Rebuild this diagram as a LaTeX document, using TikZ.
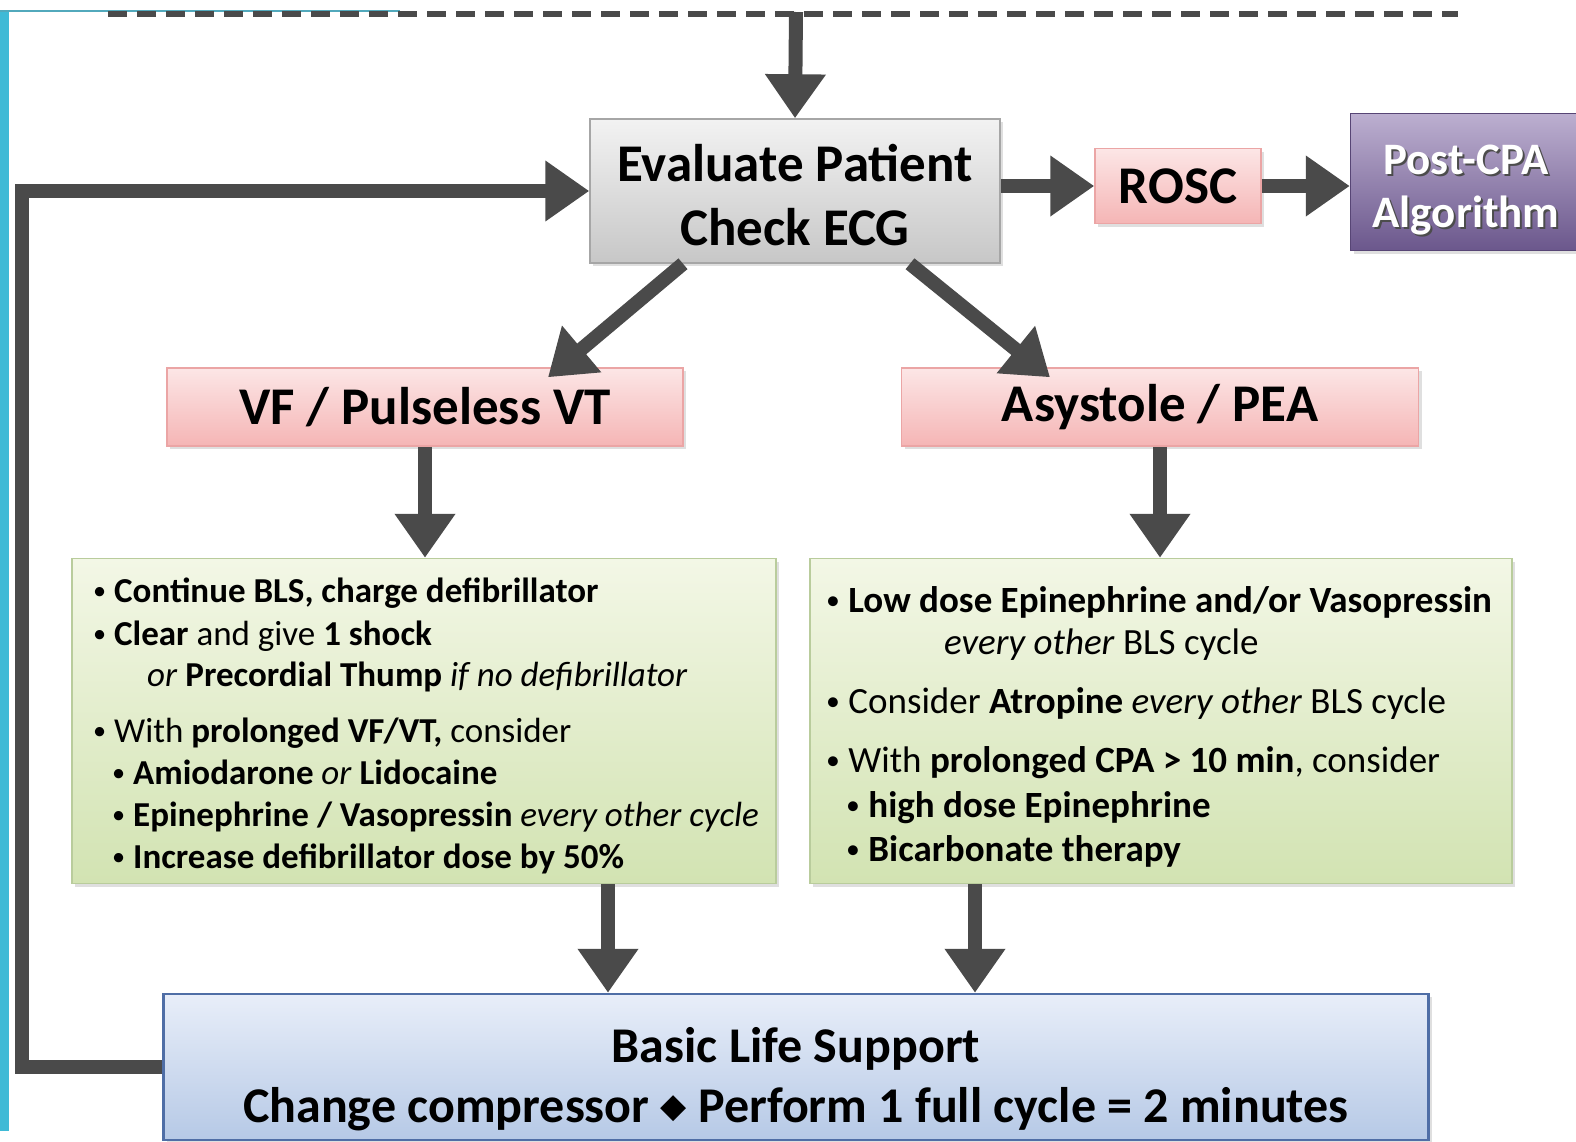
\documentclass[tikz,border=0pt]{standalone}
\usepackage{fontspec}
\setmainfont{Carlito}
\newfontfamily\symf{DejaVu Sans}
\usetikzlibrary{arrows.meta,shadows}
\definecolor{arrowgray}{HTML}{4A4A4A}
\definecolor{cyanbar}{HTML}{3FBAD6}
\definecolor{pinkT}{HTML}{FCE6E6}
\definecolor{pinkB}{HTML}{F5B5B5}
\definecolor{pinkD}{HTML}{EBA5A5}
\definecolor{purT}{HTML}{BCAFD0}
\definecolor{purB}{HTML}{6B578C}
\definecolor{purD}{HTML}{574575}
\definecolor{grnT}{HTML}{F3F7E6}
\definecolor{grnB}{HTML}{D2E3B2}
\definecolor{grnD}{HTML}{B9CC9C}
\definecolor{bluT}{HTML}{E8EEF9}
\definecolor{bluB}{HTML}{B6C9E6}
\definecolor{bluD}{HTML}{4F6EA6}
\newcommand\itm{\raisebox{0.15ex}{\scalebox{0.75}{\textbullet}}\ }
\begin{document}
\begin{tikzpicture}[x=1pt,y=-1pt,
  flow/.style={draw=arrowgray, line width=14pt, -{Triangle[width=58pt,length=44pt]}},
  boxbase/.style={draw, line width=1.5pt, inner sep=0pt, align=center,
     drop shadow={opacity=0.25, shadow xshift=3pt, shadow yshift=-3pt}},
  graybox/.style={boxbase, draw=black!35, top color=white!95!black, bottom color=black!22},
  pinkbox/.style={boxbase, draw=pinkD, top color=pinkT, bottom color=pinkB},
  purplebox/.style={boxbase, draw=purD, top color=purT, bottom color=purB},
  greenbox/.style={boxbase, draw=grnD, top color=grnT, bottom color=grnB},
  bluebox/.style={boxbase, draw=bluD, line width=2.5pt, top color=bluT, bottom color=bluB},
  big/.style={font=\fontsize{53}{64}\selectfont\bfseries},
  ltxt/.style={font=\fontsize{35}{40}\selectfont, inner sep=0pt, anchor=base west},
  rtxt/.style={font=\fontsize{37}{42}\selectfont, inner sep=0pt, anchor=base west},
]
\useasboundingbox (0,0) rectangle (1576,1141);
\fill[white] (0,0) rectangle (1576,1141);
% left cyan bar and top line
\fill[cyanbar] (0,10) rectangle (9,1131);
\draw[cyanbar!70!gray, line width=2pt] (0,11) -- (400,11);
% dashed top line
\coordinate (dl) at (108,14);
\coordinate (dr) at (1458,14);
\draw[arrowgray, line width=6pt, dash pattern=on 19pt off 10pt] (dl) -- (dr);
\coordinate (topc) at (796,12);

% boxes
\node[graybox, minimum width=410pt, minimum height=144pt] (eval) at (795,191) {};
\node[big, align=center] (evaltx) at (795,195) {Evaluate Patient\\Check ECG};
\node[pinkbox, big, minimum width=166pt, minimum height=75pt] (rosc) at (1178,186) {ROSC};
\node[purplebox, minimum width=231pt, minimum height=137pt] (post) at (1466,182) {};
\node[font=\fontsize{45}{53}\selectfont\bfseries, text=black!70, align=center] (postsh) at (1468,192) {Post-CPA\\Algorithm};
\node[font=\fontsize{45}{53}\selectfont\bfseries, text=white, align=center] (posttx) at (1466,190) {Post-CPA\\Algorithm};
\node[pinkbox, big, minimum width=516pt, minimum height=78pt] (vf) at (425,407) {VF / Pulseless VT};
\node[pinkbox, big, minimum width=517pt, minimum height=78pt] (asy) at (1160,407) {Asystole / PEA};
\node[greenbox, minimum width=704pt, minimum height=325pt] (lbox) at (424,721) {};
\node[greenbox, minimum width=702pt, minimum height=325pt] (rbox) at (1161,721) {};
\node[bluebox, minimum width=1265pt, minimum height=146pt] (bls) at (796,1067) {};
\node[font=\fontsize{50}{60}\selectfont\bfseries, align=center] (blstx) at (796,1079)
  {Basic Life Support\\Change compressor \raisebox{5pt}{\symf\fontsize{34}{34}\selectfont ◆} Perform 1 full cycle = 2 minutes};

% left box text
\node[ltxt] (l1) at (93,602) {\itm\textbf{Continue BLS, charge defibrillator}};
\node[ltxt] (l2) at (93,645) {\itm\textbf{Clear} and give \textbf{1 shock}};
\node[ltxt] (l3) at (147,686) {\textit{or} \textbf{Precordial Thump} \textit{if no defibrillator}};
\node[ltxt] (l4) at (93,742) {\itm With \textbf{prolonged VF/VT,} consider};
\node[ltxt] (l5) at (112,784) {\itm\textbf{Amiodarone} \textit{or} \textbf{Lidocaine}};
\node[ltxt] (l6) at (112,826) {\itm\textbf{Epinephrine / Vasopressin} \textit{every other cycle}};
\node[ltxt] (l7) at (112,868) {\itm\textbf{Increase defibrillator dose by 50\%}};
% right box text
\node[rtxt] (r1) at (826,612) {\itm\textbf{Low dose Epinephrine and/or Vasopressin}};
\node[rtxt] (r2) at (944,654) {\textit{every other} BLS cycle};
\node[rtxt] (r3) at (826,713) {\itm Consider \textbf{Atropine} \textit{every other} BLS cycle};
\node[rtxt] (r4) at (826,772) {\itm With \textbf{prolonged CPA > 10 min}, consider};
\node[rtxt] (r5) at (846,817) {\itm\textbf{high dose Epinephrine}};
\node[rtxt] (r6) at (846,861) {\itm\textbf{Bicarbonate therapy}};

% connectors
\draw[flow] (topc) -- (eval.north);
\draw[flow] (rosc.west -| eval.east) -- (rosc.west);
\draw[flow] (rosc.east) -- (rosc.east -| post.west);
\draw[flow] ([xshift=-112pt]eval.south) -- ([xshift=123pt,yshift=-10pt]vf.north);
\draw[flow] ([xshift=115pt]eval.south) -- ([xshift=-110pt,yshift=-10pt]asy.north);
\draw[flow] (vf.south) -- (vf.south |- lbox.north);
\draw[flow] (asy.south) -- (asy.south |- rbox.north);
\draw[flow] ([xshift=184pt]lbox.south) -- ([xshift=184pt]lbox.south |- bls.north);
\draw[flow] ([xshift=-186pt]rbox.south) -- ([xshift=-186pt]rbox.south |- bls.north);
\coordinate (lc) at (22,600);
\draw[flow] (bls.west) -| (lc) |- (eval.west);
\end{tikzpicture}
\end{document}
